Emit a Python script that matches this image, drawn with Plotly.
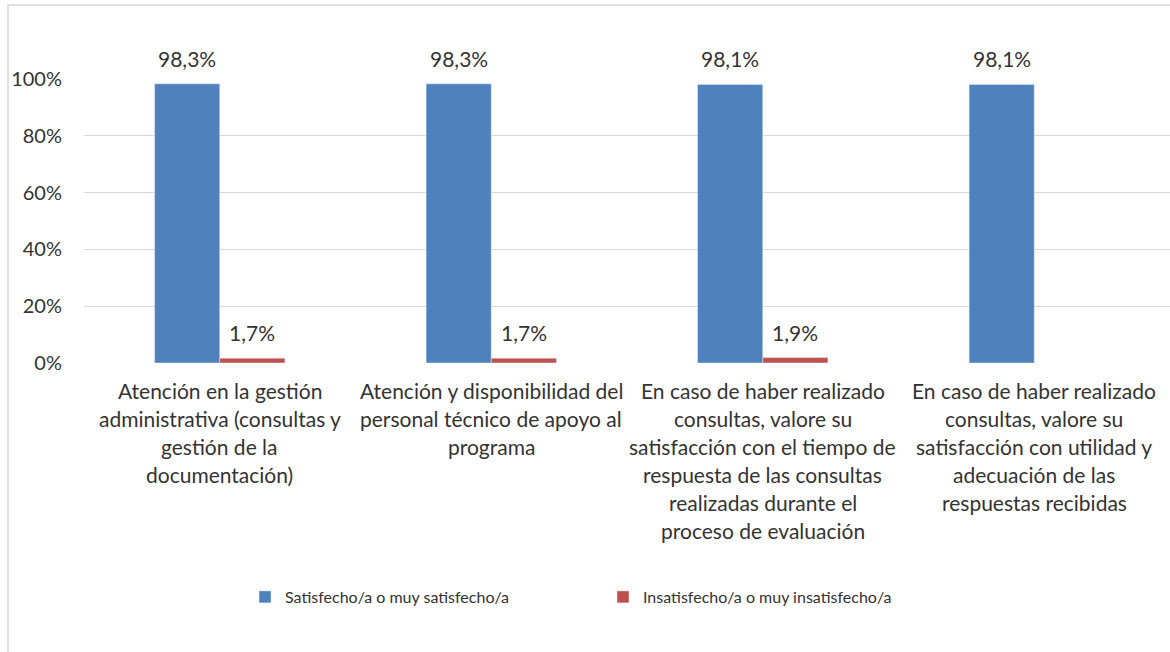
import plotly.graph_objects as go

categories = ["cat1", "cat2", "cat3", "cat4"]
category_lines = [
    ["Atención en la gestión", "administrativa (consultas y", "gestión de la", "documentación)"],
    ["Atención y disponibilidad del", "personal técnico de apoyo al", "programa"],
    ["En caso de haber realizado", "consultas, valore su", "satisfacción con el tiempo de",
     "respuesta de las consultas", "realizadas durante el", "proceso de evaluación"],
    ["En caso de haber realizado", "consultas, valore su", "satisfacción con utilidad y",
     "adecuación de las", "respuestas recibidas"],
]
series_names = ["Satisfecho/a o muy satisfecho/a", "Insatisfecho/a o muy insatisfecho/a"]
satisfied = [0.983, 0.983, 0.981, 0.981]
unsatisfied = [0.017, 0.017, 0.019, None]
y_ticks = [0, 0.2, 0.4, 0.6, 0.8, 1.0]

BLUE = "#4F81BD"
RED = "#C0504D"
TXT = "#333333"
FONT = "Lato"

W, H = 1170, 652
L, R, T, B = 84, 0, 79, 289
pw = W - L - R
ph = H - T - B

fig = go.Figure()
fig.add_bar(x=categories, y=satisfied, name=series_names[0], marker_color=BLUE)
fig.add_bar(x=categories, y=unsatisfied, name=series_names[1], marker_color=RED)

bargap = 0.52
bar_px = pw / len(categories) * (1 - bargap) / 2

annotations = []
for vals, sign in ((satisfied, -1), (unsatisfied, 1)):
    for c, v in zip(categories, vals):
        if v is None:
            continue
        annotations.append(dict(
            x=c, y=v, xref="x", yref="y", text=f"{v*100:.1f}%".replace(".", ","),
            showarrow=False, yanchor="bottom", xanchor="center",
            xshift=sign * bar_px / 2, yshift=11,
            font=dict(family=FONT, size=21, color=TXT)))

for c, lines in zip(categories, category_lines):
    for i, line in enumerate(lines):
        annotations.append(dict(
            x=c, y=0, xref="x", yref="paper", text=line, showarrow=False,
            yanchor="middle", xanchor="center", yshift=-(27 + 28 * i),
            font=dict(family=FONT, size=21, color=TXT)))

fig.update_layout(
    width=W, height=H,
    margin=dict(l=L, r=R, t=T, b=B),
    paper_bgcolor="white", plot_bgcolor="white",
    separators=",.",
    barmode="group", bargap=bargap, bargroupgap=0,
    font=dict(family=FONT, color=TXT),
    xaxis=dict(showticklabels=False, showgrid=False, showline=False, ticks=""),
    yaxis=dict(range=[0, 1], tickvals=y_ticks, tickformat=".0%",
               showgrid=True, gridcolor="#D9D9D9", gridwidth=1, zeroline=False,
               showline=False, ticks="", ticklabelstandoff=21,
               tickfont=dict(family=FONT, size=20, color=TXT)),
    showlegend=True,
    legend=dict(orientation="h", x=(245 - L) / pw, xanchor="left",
                y=(H - B - 597) / ph, yanchor="middle",
                entrywidth=313, entrywidthmode="pixels",
                font=dict(family=FONT, size=16, color=TXT)),
    annotations=annotations,
    shapes=[dict(type="rect", xref="paper", yref="paper",
                 x0=(8 - L) / pw, x1=(1300 - L) / pw,
                 y0=(H - B - 800) / ph, y1=(H - B - 5) / ph,
                 line=dict(color="#D9D9D9", width=1.5), fillcolor="rgba(0,0,0,0)",
                 layer="below")],
)

fig.write_html("out.html", post_script="document.body.style.margin='0';",
               config={"displayModeBar": False})
